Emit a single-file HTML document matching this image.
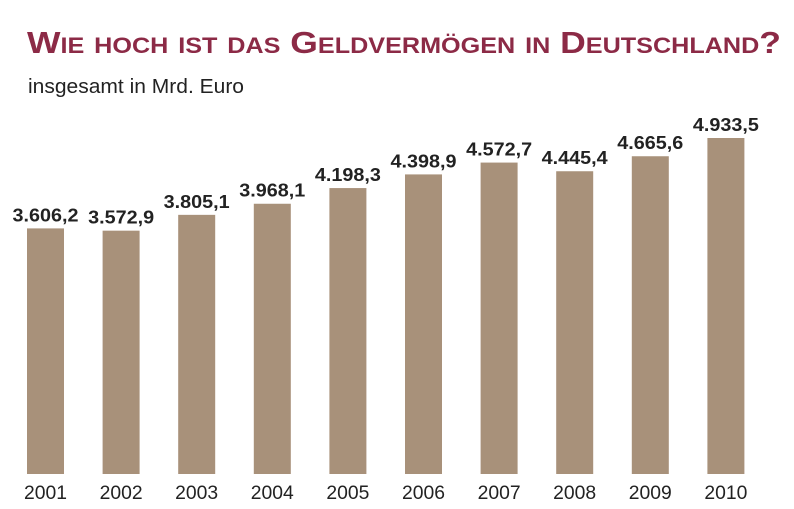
<!DOCTYPE html>
<html><head><meta charset="utf-8"><style>
body{margin:0;background:#fff;}
svg{display:block;font-family:"Liberation Sans",sans-serif;}
</style></head><body>
<svg width="794" height="509" viewBox="0 0 794 509">
<text x="27" y="53" font-size="31" font-weight="bold" fill="#8c2a46" style="font-variant:small-caps" textLength="754" lengthAdjust="spacingAndGlyphs">Wie hoch ist das Geldvermögen in Deutschland?</text>
<text x="28" y="93" font-size="20" fill="#222" textLength="216" lengthAdjust="spacingAndGlyphs">insgesamt in Mrd. Euro</text>
<g id="bars"></g>
</svg>
<script>
const categories=["2001","2002","2003","2004","2005","2006","2007","2008","2009","2010"];
const values=[3606.2,3572.9,3805.1,3968.1,4198.3,4398.9,4572.7,4445.4,4665.6,4933.5];
const valueLabels=["3.606,2","3.572,9","3.805,1","3.968,1","4.198,3","4.398,9","4.572,7","4.445,4","4.665,6","4.933,5"];
const NS="http://www.w3.org/2000/svg";
const g=document.getElementById('bars');
const x0=45.5,pitch=75.6,bw=37,base=474,k=336/4933.5;
function xs(i){return x0+i*pitch;}
function ys(v){return base-v*k;}
values.forEach((v,i)=>{
  const r=document.createElementNS(NS,'rect');
  
  
  r.setAttribute('x',xs(i)-bw/2);r.setAttribute('y',ys(v));
  r.setAttribute('width',bw);r.setAttribute('height',base-ys(v));
  r.setAttribute('fill','#a8917a');g.appendChild(r);
  const t=document.createElementNS(NS,'text');
  
  
  t.setAttribute('x',xs(i)-33);t.setAttribute('y',ys(v)-7);
  t.setAttribute('font-size','18');
  t.setAttribute('textLength','66');t.setAttribute('lengthAdjust','spacingAndGlyphs');
  t.setAttribute('font-weight','bold');t.setAttribute('fill','#222');
  t.textContent=valueLabels[i];g.appendChild(t);
  const c=document.createElementNS(NS,'text');
  
  
  c.setAttribute('x',xs(i)-21.5);c.setAttribute('y',499);
  c.setAttribute('font-size','19');
  c.setAttribute('textLength','43');c.setAttribute('lengthAdjust','spacingAndGlyphs');
  c.setAttribute('fill','#222');
  c.textContent=categories[i];g.appendChild(c);
});
</script>
</body></html>
